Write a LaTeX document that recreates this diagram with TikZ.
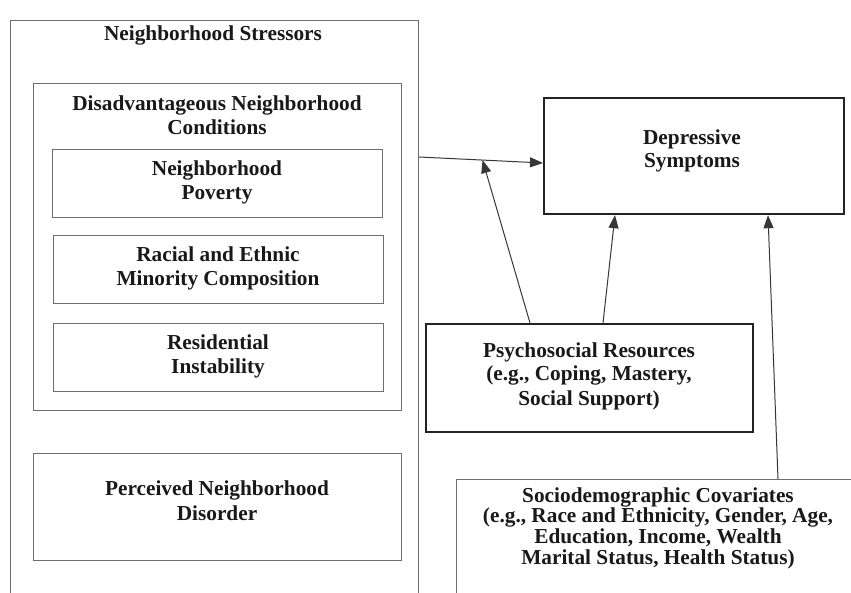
\documentclass[tikz,border=0pt]{standalone}
\usepackage{fontspec}
\setmainfont{Liberation Serif}
\usetikzlibrary{arrows.meta}
\definecolor{thinc}{RGB}{110,110,110}
\definecolor{thickc}{RGB}{35,35,35}
\definecolor{txt}{RGB}{25,25,25}
\definecolor{linec}{RGB}{55,55,55}
\tikzset{
  thinbox/.style={draw=thinc, line width=1.1pt, inner sep=0pt, anchor=north west},
  thickbox/.style={draw=thickc, line width=2.2pt, inner sep=0pt, anchor=north west},
  lbl/.style={inner sep=0pt, anchor=base, text=txt, font=\bfseries\fontsize{21.3}{24}\selectfont},
  conn/.style={draw=linec, line width=1pt, -{Triangle[length=13pt,width=10pt]}},
}
\newcommand{\twol}[1]{\begin{tabular}[t]{@{}c@{}}#1\end{tabular}}
\begin{document}
\begin{tikzpicture}[x=1pt,y=-1pt]
\clip (0,0) rectangle (851,593);
\fill[white] (0,0) rectangle (851,593);
% boxes
\node[thinbox, minimum width=408pt, minimum height=600pt] (stress) at (10,20) {};
\node[thinbox, minimum width=368pt, minimum height=327pt] (disadv) at (33,83) {};
\node[thinbox, minimum width=330pt, minimum height=68pt] (pov) at (52,149) {};
\node[thinbox, minimum width=330pt, minimum height=68pt] (race) at (53,235) {};
\node[thinbox, minimum width=330pt, minimum height=68pt] (resid) at (53,323) {};
\node[thinbox, minimum width=368pt, minimum height=107pt] (perc) at (33,453) {};
\node[thickbox, minimum width=300pt, minimum height=116pt] (dep) at (543,97) {};
\node[thickbox, minimum width=327pt, minimum height=108pt] (psych) at (425,323) {};
\node[thinbox, minimum width=420pt, minimum height=140pt] (socio) at (456,479) {};
% labels
\node[lbl] (tstress) at (213,41) {Neighborhood Stressors};
\node[lbl] (tdis) at (217,111) {\twol{Disadvantageous Neighborhood\\Conditions}};
\node[lbl] (tpov) at (217,176) {\twol{Neighborhood\\Poverty}};
\node[lbl] (trace) at (218,262) {\twol{Racial and Ethnic\\Minority Composition}};
\node[lbl] (tres) at (218,350) {\twol{Residential\\Instability}};
\node[lbl] (tperc) at (217,495) {\fontsize{21.3}{25}\selectfont\twol{Perceived Neighborhood\\Disorder}};
\node[lbl] (tdep) at (692,145) {\fontsize{21.3}{22.5}\selectfont\twol{Depressive\\Symptoms}};
\node[lbl] (tpsy) at (589,357) {\fontsize{21.3}{24}\selectfont\twol{Psychosocial Resources\\(e.g., Coping, Mastery,\\Social Support)}};
\node[lbl] (tsoc) at (658,502) {\fontsize{21.3}{20}\selectfont\twol{Sociodemographic Covariates\\(e.g., Race and Ethnicity, Gender, Age,\\Education, Income, Wealth\\Marital Status, Health Status)}};
% connectors
\draw[conn] ([yshift=-137pt]stress.north east) -- coordinate[pos=0.512] (mid) ([yshift=-66pt]dep.north west);
\draw[conn] ([xshift=105pt]psych.north west) -- (mid);
\draw[conn] ([xshift=178pt]psych.north west) -- ([xshift=72pt]dep.south west);
\draw[conn] ([xshift=322pt]socio.north west) -- ([xshift=225pt]dep.south west);
\end{tikzpicture}
\end{document}
